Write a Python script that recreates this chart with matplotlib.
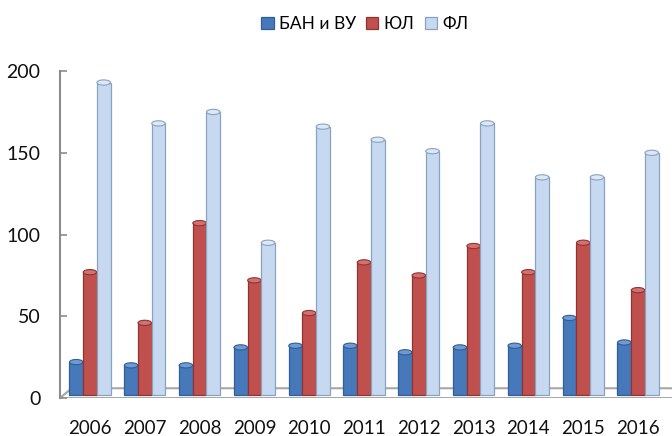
import matplotlib
matplotlib.use("Agg")
import matplotlib.pyplot as plt
import numpy as np
from matplotlib.patches import Ellipse, Polygon

plt.rcParams["font.family"] = ["Lato", "DejaVu Sans"]

years = ["2006", "2007", "2008", "2009", "2010", "2011",
         "2012", "2013", "2014", "2015", "2016"]
ban_vu = [20, 18, 18, 29, 30, 30, 26, 29, 30, 47, 32]
yul = [75, 44, 105, 70, 50, 81, 73, 91, 75, 93, 64]
fl = [191, 166, 173, 93, 164, 156, 149, 166, 133, 133, 148]

series = [
    ("БАН и ВУ", ban_vu, "#4678BA", "#2F5F96", "#6E9BD1"),
    ("ЮЛ", yul, "#C0504D", "#8E3532", "#D4706D"),
    ("ФЛ", fl, "#C6D9F1", "#8AA2C0", "#DCE8F7"),
]

fig = plt.figure(figsize=(6.72, 4.36), dpi=100)
ax = fig.add_axes([0.089, 0.087, 0.911, 0.75])

x = np.arange(len(years))
width = 0.25
base = 2

# floor of the pseudo-3D chart
floor = Polygon([(-0.55, 0), (-0.33, 6), (10.62, 6), (10.8, 0)],
                closed=True, facecolor="white", edgecolor="#A6A6A6",
                linewidth=1.5, zorder=1)
ax.add_patch(floor)

for i, (name, vals, col, edge, cap) in enumerate(series):
    pos = x + (i - 1) * width
    ax.bar(pos, vals, width=width, bottom=base, color=col, edgecolor=edge,
           linewidth=0.9, label=name, zorder=2 + i * 0.1)
    for px, v in zip(pos, vals):
        ax.add_patch(Ellipse((px, v + base), width * 0.98, 3.2, facecolor=cap,
                             edgecolor=edge, linewidth=0.8, zorder=2.05 + i * 0.1))

ax.set_xlim(-0.55, 10.62)
ax.set_ylim(0, 200)
ax.set_yticks([0, 50, 100, 150, 200])
ax.set_xticks(x)
ax.set_xticklabels(years)

for s in ["top", "right", "bottom"]:
    ax.spines[s].set_visible(False)
ax.spines["left"].set_color("#8C8C8C")
ax.spines["left"].set_linewidth(1.5)

ax.tick_params(axis="y", direction="in", length=5, width=1.2, color="#8C8C8C",
               pad=14, labelsize=14, labelcolor="#111111")
ax.tick_params(axis="x", length=0, pad=16, labelsize=13.5, labelcolor="#111111")

fig.legend(loc="center", bbox_to_anchor=(0.543, 0.945), ncol=3, frameon=False,
           handlelength=0.7, handleheight=0.7, handletextpad=0.3,
           columnspacing=0.6, fontsize=12.5)

fig.savefig("out.png", dpi=100)
